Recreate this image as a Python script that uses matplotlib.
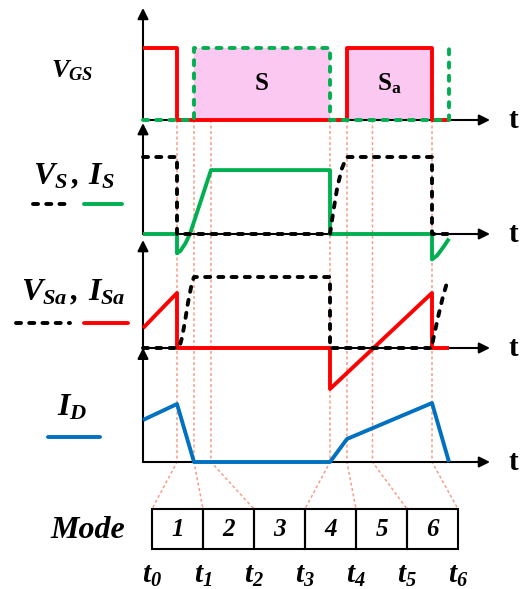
import matplotlib
matplotlib.use('Agg')
import matplotlib.pyplot as plt
from matplotlib.patches import Rectangle

plt.rcParams['mathtext.fontset'] = 'custom'
plt.rcParams['mathtext.rm'] = 'Liberation Serif:bold:italic'
plt.rcParams['mathtext.it'] = 'Liberation Serif:bold:italic'
plt.rcParams['mathtext.bf'] = 'Liberation Serif:bold'

# ---- data (time in arbitrary units, levels normalised per panel) ----
t_inst = [1.0, 1.5, 2.0, 5.5, 6.0, 6.75, 8.5]      # t0 .. t6
t_names = ['0', '1', '2', '3', '4', '5', '6']
modes = ['1', '2', '3', '4', '5', '6']

# gate signals
vgs_sa_t = [0, 1.0, 1.0, 6.0, 6.0, 8.5, 8.5, 9.0]
vgs_sa_v = [1, 1, 0, 0, 1, 1, 0, 0]
vgs_s_t = [0, 1.5, 1.5, 5.5, 5.5, 9.0, 9.0]
vgs_s_v = [0, 0, 1, 1, 0, 0, 1]
s_on = (1.5, 5.5)
sa_on = (6.0, 8.5)

# main switch voltage / current
vs_t = [0, 1.0, 1.0, 5.5, 5.6, 5.72, 5.85, 5.96, 6.0, 8.5, 8.5, 9.0]
vs_v = [1, 1, 0, 0, 0.3, 0.62, 0.85, 0.97, 1, 1, 0, 0]
is_t = [0, 1.0, 1.0, 1.1, 1.25, 1.38, 2.0, 5.5, 5.5, 8.5, 8.5, 8.65, 8.85, 9.0]
is_v = [0, 0, -0.25, -0.22, -0.12, 0, 0.83, 0.83, 0, 0, -0.33, -0.28, -0.16, -0.06]

# auxiliary switch voltage / current
vsa_t = [0, 1.0, 1.08, 1.15, 1.24, 1.32, 1.44, 1.5, 5.5, 5.5, 8.5, 8.53, 8.68, 8.82, 8.97]
vsa_v = [0, 0, 0.03, 0.15, 0.39, 0.63, 0.92, 1, 1, 0, 0, 0.11, 0.44, 0.72, 0.97]
isa_t = [0, 1.0, 1.0, 5.5, 5.5, 8.5, 8.5, 9.0]
isa_v = [0.28, 0.775, 0, 0, -0.577, 0.775, 0, 0]

# diode current
id_t = [0, 1.0, 1.5, 5.5, 6.0, 8.5, 9.0]
id_v = [0.724, 1.0, 0, 0, 0.397, 1.017, 0]

# ---- layout (pixels) ----
W, H = 521, 589
X0 = 143          # vertical axes
PX = 34.0         # pixels per time unit
T_LEFT = -X0 / PX
T_RIGHT = (W - X0) / PX
T_ARROW = (490 - X0) / PX
T_LABEL = (513 - X0) / PX

RED = '#FF0000'
GREEN = '#00B050'
BLUE = '#0070C0'
PINK = '#FAC8F0'
GUIDE = '#F4A08C'
LW = 2.8
DASH = (1.3, 2.1)

fig = plt.figure(figsize=(W / 100, H / 100), dpi=100)

ov = fig.add_axes([0, 0, 1, 1])
ov.set_xlim(0, W)
ov.set_ylim(H, 0)
ov.axis('off')


def tx(t):
    return X0 + PX * t


def panel(y_base, scale, top):
    ax = fig.add_axes([0, (H - y_base) / H, 1, scale / H])
    ax.set_xlim(T_LEFT, T_RIGHT)
    ax.set_ylim(0, 1)
    ax.axis('off')
    ap = dict(arrowstyle='-|>', lw=1.5, color='k', mutation_scale=16, shrinkA=0, shrinkB=0)
    ax.annotate('', xy=(0, top), xytext=(0, 0), arrowprops=ap, annotation_clip=False)
    ax.annotate('', xy=(T_ARROW, 0), xytext=(0, 0), arrowprops=ap, annotation_clip=False)
    ax.text(T_LABEL, 0, 't', fontsize=21, fontweight='bold', family='Liberation Serif',
            ha='center', va='center')
    return ax


def dashed(ax, x, y, color):
    ax.plot(x, y, color=color, lw=LW, dashes=DASH, dash_capstyle='round',
            solid_joinstyle='round', clip_on=False, zorder=4)


def solid(ax, x, y, color):
    ax.plot(x, y, color=color, lw=LW, solid_capstyle='butt', clip_on=False, zorder=3)


# guide lines from the waveforms down to the mode boxes
Y_TOP, Y_BOT = 120, 462
BOX_L, BOX_W, BOX_T, BOX_B = 152, 51, 509, 549
for i, t in enumerate(t_inst):
    ov.plot([tx(t), tx(t), BOX_L + i * BOX_W], [Y_TOP, Y_BOT, BOX_T],
            color=GUIDE, lw=1.1, dashes=(2, 1.6), zorder=1)

# gate panel
ax1 = panel(120, 72, 1.556)
ax1.fill_between(s_on, 0, 1, color=PINK, lw=0, zorder=1)
ax1.fill_between(sa_on, 0, 1, color=PINK, lw=0, zorder=1)
solid(ax1, vgs_sa_t, vgs_sa_v, RED)
dashed(ax1, vgs_s_t, vgs_s_v, GREEN)
ax1.text(sum(s_on) / 2, 0.51, 'S', fontsize=18, fontweight='bold', family='Liberation Serif',
         ha='center', va='center')
ax1.text(sum(sa_on) / 2, 0.51, r'$\mathbf{S}_\mathbf{a}$', fontsize=18, ha='center', va='center')

# V_S, I_S panel
ax2 = panel(234, 77, 1.44)
solid(ax2, is_t, is_v, GREEN)
dashed(ax2, vs_t, vs_v, 'k')

# V_Sa, I_Sa panel
ax3 = panel(348, 71, 1.52)
solid(ax3, isa_t, isa_v, RED)
dashed(ax3, vsa_t, vsa_v, 'k')

# I_D panel
ax4 = panel(462, 58, 1.97)
solid(ax4, id_t, id_v, BLUE)

# left labels and legend strokes
ov.text(72, 70, r'$V_{GS}$', fontsize=19, ha='center', va='center')
ov.text(74, 176, r'$V_S\,,\,I_S$', fontsize=23, ha='center', va='center')
ov.plot([33, 70], [204, 204], color='k', lw=LW, dashes=DASH, dash_capstyle='round')
ov.plot([84, 122], [204, 204], color=GREEN, lw=LW, solid_capstyle='round')
ov.text(73, 292, r'$V_{Sa}\,,\,I_{Sa}$', fontsize=23, ha='center', va='center')
ov.plot([16, 70], [323, 323], color='k', lw=LW, dashes=DASH, dash_capstyle='round')
ov.plot([84, 128], [323, 323], color=RED, lw=LW, solid_capstyle='round')
ov.text(72, 407, r'$I_D$', fontsize=23, ha='center', va='center')
ov.plot([48, 100], [437, 437], color=BLUE, lw=LW, solid_capstyle='round')

# mode table
ov.text(88, 531, 'Mode', fontsize=23, fontweight='bold', style='italic',
        family='Liberation Serif', ha='center', va='center')
for i, m in enumerate(modes):
    ov.add_patch(Rectangle((BOX_L + i * BOX_W, BOX_T), BOX_W, BOX_B - BOX_T,
                           fill=False, ec='k', lw=1.5))
    ov.text(BOX_L + (i + 0.5) * BOX_W, 529, m, fontsize=18, fontweight='bold', style='italic',
            family='Liberation Serif', ha='center', va='center')
for i, n in enumerate(t_names):
    ov.text(BOX_L + i * BOX_W, 575, r'$t_{%s}$' % n, fontsize=21, ha='center', va='center')

fig.savefig('out.png', dpi=100)
